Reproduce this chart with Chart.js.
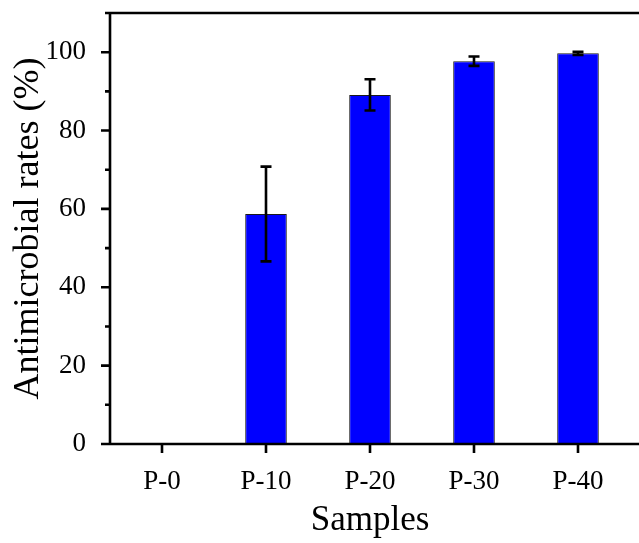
<!DOCTYPE html>
<html>
<head>
<meta charset="utf-8">
<script src="https://cdn.jsdelivr.net/npm/chart.js@4.4.1/dist/chart.umd.min.js"></script>
<style>
  html, body { margin: 0; padding: 0; background: #ffffff; overflow: hidden; }
  #wrap { width: 639px; height: 543px; }
</style>
</head>
<body>
<div id="wrap"><canvas id="c" width="639" height="543"></canvas></div>
<script>
const categories = ['P-0', 'P-10', 'P-20', 'P-30', 'P-40'];
const rates = [0, 58.7, 89.1, 97.7, 99.7];
const errors = [0, 12.1, 4.0, 1.2, 0.4];
const yMajorTicks = [0, 20, 40, 60, 80, 100];
const yMinorTicks = [10, 30, 50, 70, 90, 110];

const FONT = "'Liberation Serif', 'Times New Roman', serif";

const framePlugin = {
  id: 'frame',
  afterDatasetsDraw(chart) {
    const ctx = chart.ctx;
    const xs = chart.scales.x, ys = chart.scales.y;
    ctx.save();
    ctx.strokeStyle = '#000';
    ctx.lineWidth = 2.6;
    ctx.lineCap = 'butt';
    categories.forEach((c, i) => {
      if (!errors[i]) return;
      const x = xs.getPixelForValue(i);
      const yt = ys.getPixelForValue(rates[i] + errors[i]);
      const yb = ys.getPixelForValue(rates[i] - errors[i]);
      ctx.beginPath();
      ctx.moveTo(x, yt); ctx.lineTo(x, yb);
      ctx.moveTo(x - 5.5, yt); ctx.lineTo(x + 5.5, yt);
      ctx.moveTo(x - 5.5, yb); ctx.lineTo(x + 5.5, yb);
      ctx.stroke();
    });
    ctx.restore();
  },
  afterDraw(chart) {
    const ctx = chart.ctx;
    const a = chart.chartArea;
    const xs = chart.scales.x, ys = chart.scales.y;
    ctx.save();
    ctx.strokeStyle = '#000';
    ctx.lineWidth = 2.6;
    ctx.lineCap = 'butt';
    ctx.beginPath();
    ctx.moveTo(a.left, a.top - 1.3); ctx.lineTo(a.left, a.bottom + 1.3);
    ctx.moveTo(a.left, a.bottom); ctx.lineTo(chart.width, a.bottom);
    ctx.moveTo(a.left, a.top); ctx.lineTo(chart.width, a.top);
    yMajorTicks.forEach(v => {
      const y = ys.getPixelForValue(v);
      ctx.moveTo(a.left - 9, y); ctx.lineTo(a.left, y);
    });
    yMinorTicks.forEach(v => {
      const y = ys.getPixelForValue(v);
      ctx.moveTo(a.left - 5, y); ctx.lineTo(a.left, y);
    });
    categories.forEach((c, i) => {
      const x = xs.getPixelForValue(i);
      ctx.moveTo(x, a.bottom); ctx.lineTo(x, a.bottom + 9);
    });
    ctx.stroke();
    ctx.restore();
  }
};

new Chart(document.getElementById('c'), {
  type: 'bar',
  data: {
    datasets: [{
      data: categories.map((c, i) => ({ x: i, y: rates[i] })),
      backgroundColor: '#0000ff',
      borderColor: '#1a1a1a',
      borderWidth: (ctx) => (ctx.raw && ctx.raw.y === 0 ? 0 : 1),
      borderSkipped: false,
      barPercentage: 0.4,
      categoryPercentage: 1.0
    }]
  },
  options: {
    responsive: false,
    animation: false,
    events: [],
    layout: { padding: { top: 13, left: 0, right: 9, bottom: 0 } },
    plugins: { legend: { display: false }, tooltip: { enabled: false } },
    scales: {
      x: {
        type: 'linear',
        offset: false,
        min: -0.5,
        max: 4.5,
        grid: { display: false, offset: false },
        border: { display: false },
        afterBuildTicks: (s) => { s.ticks = categories.map((c, i) => ({ value: i })); },
        afterFit: (s) => { s.height = 99; s.paddingLeft = 0; s.paddingRight = 0; },
        ticks: {
          autoSkip: false,
          maxRotation: 0,
          padding: 14,
          color: '#000',
          font: { family: FONT, size: 27 },
          callback: (v) => categories[v] !== undefined ? categories[v] : ''
        },
        title: {
          display: true,
          text: 'Samples',
          color: '#000',
          font: { family: FONT, size: 35 },
          padding: { top: 0, bottom: 1 }
        }
      },
      y: {
        min: 0,
        max: 110,
        grid: { display: false },
        border: { display: false },
        afterBuildTicks: (s) => { s.ticks = yMajorTicks.map(v => ({ value: v })); },
        afterFit: (s) => { s.width = 110; s.paddingTop = 0; s.paddingBottom = 0; },
        ticks: {
          padding: 16,
          color: '#000',
          font: { family: FONT, size: 27 }
        },
        title: {
          display: true,
          text: 'Antimicrobial rates (%)',
          color: '#000',
          font: { family: FONT, size: 36 },
          padding: { top: 7, bottom: 0 }
        }
      }
    }
  },
  plugins: [framePlugin]
});
</script>
</body>
</html>
